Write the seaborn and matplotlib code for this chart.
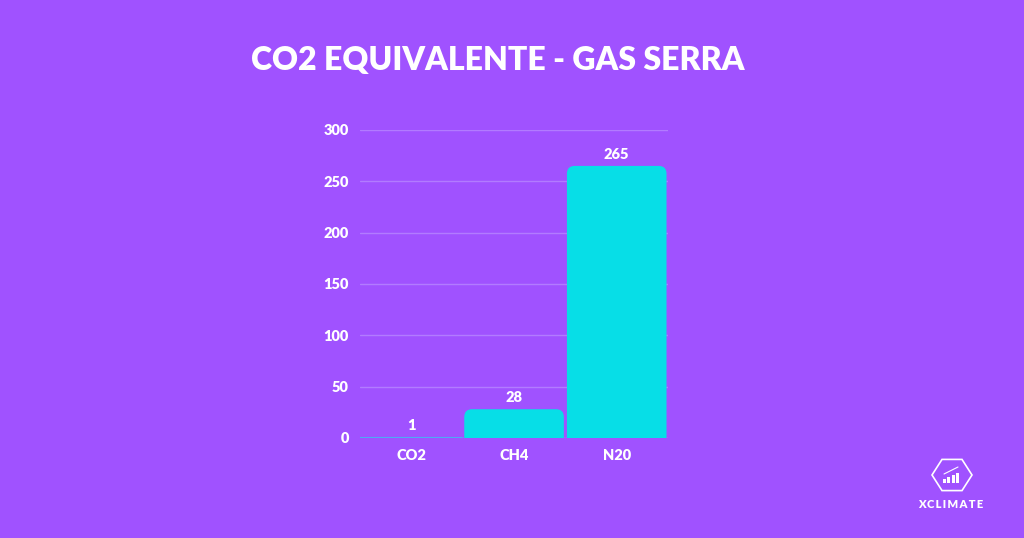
import matplotlib
matplotlib.use("Agg")
import numpy as np
import pandas as pd
import seaborn as sns
import matplotlib.pyplot as plt
from matplotlib.patches import FancyBboxPatch, Polygon, Rectangle

categories = ["CO2", "CH4", "N20"]
values = [1, 28, 265]
y_ticks = [0, 50, 100, 150, 200, 250, 300]
title = "CO2 EQUIVALENTE - GAS SERRA"

BG = "#A052FF"
BAR = "#07DEE7"
GRID = "#B27BFF"

sns.set_theme(style="white")
plt.rcParams["font.family"] = ["Lato", "DejaVu Sans"]
plt.rcParams["font.weight"] = "bold"

df = pd.DataFrame({"gas": categories, "value": values})

fig = plt.figure(figsize=(10.24, 5.38), dpi=100, facecolor=BG)
ax = fig.add_axes([0.3516, 0.1859, 0.3008, 0.5725])
ax.set_facecolor(BG)

sns.barplot(data=df, x="gas", y="value", color=BAR, width=0.97, saturation=1, ax=ax)

# swap the plain bars for ones with rounded tops (bottom corners hidden below 0)
for p in list(ax.patches):
    x, w, h = p.get_x(), p.get_width(), p.get_height()
    p.set_visible(False)
    ax.add_patch(FancyBboxPatch((x, -12), w, h + 12,
                                boxstyle="round,pad=0,rounding_size=0.075",
                                mutation_aspect=100, fc=BAR, ec="none", zorder=3))

for i, v in enumerate(values):
    ax.text(i, v + 5, str(v), ha="center", va="bottom", color="white",
            fontsize=10.5, fontweight="heavy")

ax.set_ylim(0, 300)
ax.set_xlim(-0.5, 2.5)
ax.set_yticks(y_ticks)
ax.yaxis.grid(True, color=GRID, lw=1)
ax.set_axisbelow(True)
for s in ax.spines.values():
    s.set_visible(False)
ax.axhline(0, color="#4FA8F5", lw=1.5, xmin=0, xmax=0.33, zorder=4)
ax.set_xlabel("")
ax.set_ylabel("")
ax.tick_params(axis="both", length=0, colors="white", labelsize=10.5, pad=8)
plt.setp(ax.get_xticklabels() + ax.get_yticklabels(), fontweight="heavy")

fig.text(0.4863, 0.888, title, ha="center", va="center", color="white",
         fontsize=23, fontweight="heavy")

# logo bottom right
W, H = 1024, 538
cx, cy, r = 952, 475, 20
ang = np.deg2rad(np.arange(0, 360, 60))
hex_pts = np.column_stack([(cx + r * np.cos(ang)) / W, 1 - (cy + r * 0.9 * np.sin(ang)) / H])
fig.patches.append(Polygon(hex_pts, closed=True, transform=fig.transFigure,
                           fill=False, ec="white", lw=1.2))
for k, bh in enumerate([4, 6, 8, 10]):
    fig.patches.append(Rectangle(((943 + k * 4.3) / W, 1 - 483 / H), 3 / W, bh / H,
                                 transform=fig.transFigure, fc="white", ec="none"))
fig.lines.append(plt.Line2D([944 / W, 958 / W], [1 - 474 / H, 1 - 467 / H],
                            transform=fig.transFigure, color="white", lw=0.8))
fig.text(951 / W, 1 - 504 / H, "\u2009".join("XCLIMATE"), ha="center",
         va="center", color="white", fontsize=8, fontweight="heavy")

fig.savefig("out.png", dpi=100, facecolor=BG)
